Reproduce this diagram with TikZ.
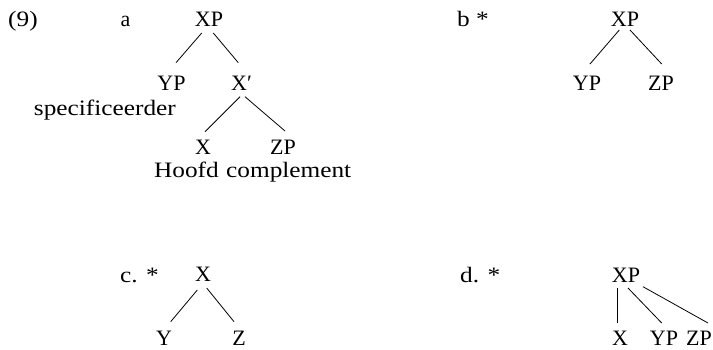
\documentclass[tikz,border=0pt]{standalone}
\usepackage{fontspec}
\setmainfont[FakeStretch=1.15]{Liberation Serif}
\newfontfamily\catfont{Liberation Serif}
\usetikzlibrary{calc}
\tikzset{
  lbl/.style={inner sep=0pt, anchor=base west, font=\fontsize{22}{26}\selectfont},
  lble/.style={inner sep=0pt, anchor=base east, font=\fontsize{22}{26}\selectfont},
  cat/.style={inner sep=0pt, anchor=base, font=\catfont\fontsize{22}{26}\selectfont},
  edge/.style={line width=0.8pt, black}
}
\begin{document}
\begin{tikzpicture}[x=1pt,y=-1pt]
\useasboundingbox (0,0) rectangle (713,349);
% labels
\node[lbl] (n9) at (8,26) {(9)};
\node[cat] (la) at (125.5,26) {a};
\node[lbl] (lb) at (457,26) {b *};
\node[lbl] (lc) at (120,282) {c. *};
\node[lbl] (ld) at (460,282) {d. *};
% tree a
\node[cat] (xpa) at (209,26) {XP};
\node[cat] (ypa) at (171.5,90) {YP};
\node[cat] (xba) at (241.5,90) {X′};
\node[cat] (xa) at (203,154) {X};
\node[cat] (zpa) at (283,154) {ZP};
\node[lble] (spec) at (176,115) {specificeerder};
\node[lble] (hoofd) at (219,177) {Hoofd};
\node[lbl] (compl) at (226,177) {complement};
\draw[edge] ($(xpa.base)+(-7.3,7)$) -- ($(ypa.base)+(4.5,-27.3)$);
\draw[edge] ($(xpa.base)+(4.3,7)$) -- ($(xba.base)+(-3.2,-27.3)$);
\draw[edge] ($(xba.base)+(-1.5,6.7)$) -- ($(xa.base)+(2,-22.3)$);
\draw[edge] ($(xba.base)+(3.5,6.7)$) -- ($(zpa.base)+(2,-23)$);
% tree b
\node[cat] (xpb) at (625,26) {XP};
\node[cat] (ypb) at (587,90) {YP};
\node[cat] (zpb) at (661,90) {ZP};
\draw[edge] ($(xpb.base)+(-5.7,4)$) -- ($(ypb.base)+(3,-26)$);
\draw[edge] ($(xpb.base)+(5,4)$) -- ($(zpb.base)+(0.7,-26)$);
% tree c
\node[cat] (xc) at (203,281) {X};
\node[cat] (yc) at (164,345) {Y};
\node[cat] (zc) at (239,345) {Z};
\draw[edge] ($(xc.base)+(-5.7,9)$) -- ($(yc.base)+(6.7,-23.3)$);
\draw[edge] ($(xc.base)+(3.7,7)$) -- ($(zc.base)+(-5,-23.3)$);
% tree d
\node[cat] (xpd) at (626,282) {XP};
\node[cat] (xd) at (620,345) {X};
\node[cat] (ypd) at (664,345) {YP};
\node[cat] (zpd) at (699,345) {ZP};
\draw[edge] ($(xpd.base)+(-8.7,6)$) -- ($(xd.base)+(-2.7,-22)$);
\draw[edge] ($(xpd.base)+(2,6)$) -- ($(ypd.base)+(-2.3,-22)$);
\draw[edge] ($(xpd.base)+(17,4.7)$) -- ($(zpd.base)+(9,-22)$);
\end{tikzpicture}
\end{document}
